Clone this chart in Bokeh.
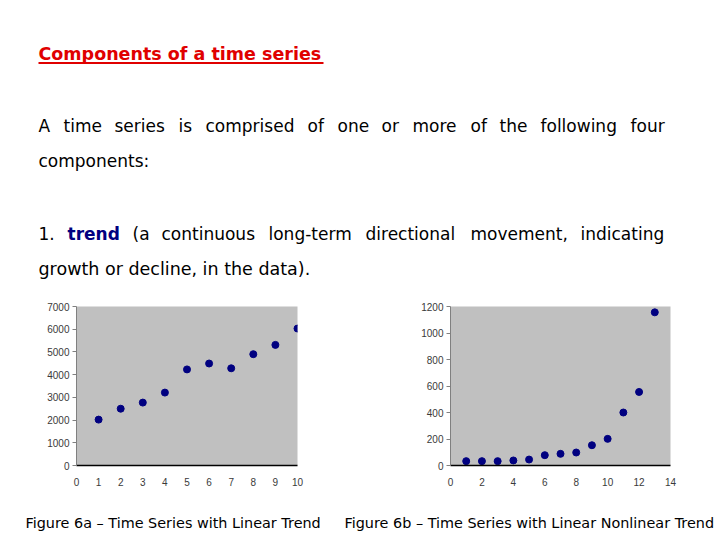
from bokeh.plotting import figure
from bokeh.layouts import column, row
from bokeh.models import Range1d, FixedTicker
from bokeh.core.properties import value
from bokeh.embed import file_html
from bokeh.resources import INLINE

# ---------------- data ----------------
periods_a = [1, 2, 3, 4, 5, 6, 7, 8, 9, 10]
values_a = [2020, 2500, 2770, 3210, 4230, 4490, 4280, 4900, 5310, 6030]
x_ticks_a = [0, 1, 2, 3, 4, 5, 6, 7, 8, 9, 10]
y_ticks_a = [0, 1000, 2000, 3000, 4000, 5000, 6000, 7000]

periods_b = [1, 2, 3, 4, 5, 6, 7, 8, 9, 10, 11, 12, 13]
values_b = [33, 33, 33, 38, 45, 78, 88, 98, 153, 201, 400, 555, 1156]
x_ticks_b = [0, 2, 4, 6, 8, 10, 12, 14]
y_ticks_b = [0, 200, 400, 600, 800, 1000, 1200]

title_text = "Components of a time series"
line1_words = ["A", "time", "series", "is", "comprised", "of", "one", "or",
               "more", "of", "the", "following", "four"]
line2_text = "components:"
line3_words = ["1.", "trend", "(a", "continuous", "long-term", "directional",
               "movement,", "indicating"]
line4_text = "growth or decline, in the data)."
caption_a = "Figure 6a \u2013 Time Series with Linear Trend"
caption_b = "Figure 6b \u2013 Time Series with Linear Nonlinear Trend"

FONT = value("DejaVu Sans")
TICKFONT = "Liberation Sans"

# ---------------- text block ----------------
top = figure(width=720, height=295, x_range=Range1d(0, 720), y_range=Range1d(295, 0),
             x_axis_type=None, y_axis_type=None, toolbar_location=None,
             output_backend="svg", min_border=0, outline_line_color=None)
top.xgrid.visible = False
top.ygrid.visible = False

top.text(x=[38], y=[53], text=[title_text], text_font=FONT, text_font_size="17.5px",
         text_font_style="bold", text_color="#e00000", text_baseline="middle")
top.segment(x0=[38], y0=[62.5], x1=[323], y1=[62.5], line_color="#e00000", line_width=2)

x1 = [38, 63, 114, 178, 205, 307, 337, 381, 412, 470, 499, 540, 630]
top.text(x=x1, y=[125] * len(x1), text=line1_words, text_font=FONT,
         text_font_size="17px", text_color="black", text_baseline="middle")
top.text(x=[38], y=[160], text=[line2_text], text_font=FONT,
         text_font_size="17px", text_color="black", text_baseline="middle")

x3 = [38, 67, 132, 161, 268, 365, 470, 580]
plain_idx = [i for i in range(len(x3)) if line3_words[i] != "trend"]
top.text(x=[x3[i] for i in plain_idx], y=[233] * len(plain_idx),
         text=[line3_words[i] for i in plain_idx], text_font=FONT,
         text_font_size="17px", text_color="black", text_baseline="middle")
top.text(x=[x3[1]], y=[233], text=[line3_words[1]], text_font=FONT,
         text_font_size="17px", text_font_style="bold", text_color="#000080",
         text_baseline="middle")
top.text(x=[38], y=[268], text=[line4_text], text_font=FONT,
         text_font_size="17.5px", text_color="black", text_baseline="middle")


# ---------------- charts ----------------
def make_chart(xs, ys, xr, yr, xt, yt, left, right):
    p = figure(width=360, height=205, x_range=Range1d(*xr), y_range=Range1d(*yr),
               toolbar_location=None, output_backend="svg",
               min_border_left=left, min_border_right=right,
               min_border_top=11, min_border_bottom=35)
    p.background_fill_color = "#c0c0c0"
    p.border_fill_color = "white"
    p.outline_line_color = None
    p.xgrid.visible = False
    p.ygrid.visible = False
    p.xaxis.ticker = FixedTicker(ticks=xt)
    p.yaxis.ticker = FixedTicker(ticks=yt)
    p.xaxis.minor_tick_line_color = None
    p.yaxis.minor_tick_line_color = None
    p.xaxis.axis_line_color = "black"
    p.xaxis.axis_line_width = 1.5
    p.xaxis.major_tick_line_color = None
    p.xaxis.major_label_standoff = 6
    p.yaxis.axis_line_color = "#808080"
    p.yaxis.major_tick_line_color = "#808080"
    p.yaxis.major_tick_in = 0
    p.yaxis.major_tick_out = 4
    p.yaxis.major_label_standoff = 3
    for ax in (p.xaxis, p.yaxis):
        ax.major_label_text_font = TICKFONT
        ax.major_label_text_font_size = "10px"
        ax.major_label_text_color = "#3a3a3a"
    p.scatter(xs, ys, size=7, fill_color="#000080", line_color="#000080")
    return p


fig_a = make_chart(periods_a, values_a, (0, 10), (0, 7000), x_ticks_a, y_ticks_a, 76, 63)
fig_b = make_chart(periods_b, values_b, (0, 14), (0, 1200), x_ticks_b, y_ticks_b, 90, 50)

# ---------------- captions ----------------
bottom = figure(width=720, height=40, x_range=Range1d(0, 720), y_range=Range1d(40, 0),
                x_axis_type=None, y_axis_type=None, toolbar_location=None,
                output_backend="svg", min_border=0, outline_line_color=None)
bottom.xgrid.visible = False
bottom.ygrid.visible = False
bottom.text(x=[25, 344], y=[22, 22], text=[caption_a, caption_b], text_font=FONT,
            text_font_size="14.4px", text_color="black", text_baseline="middle")

layout = column(top, row(fig_a, fig_b), bottom)
open("out.html", "w").write(file_html(layout, INLINE))
